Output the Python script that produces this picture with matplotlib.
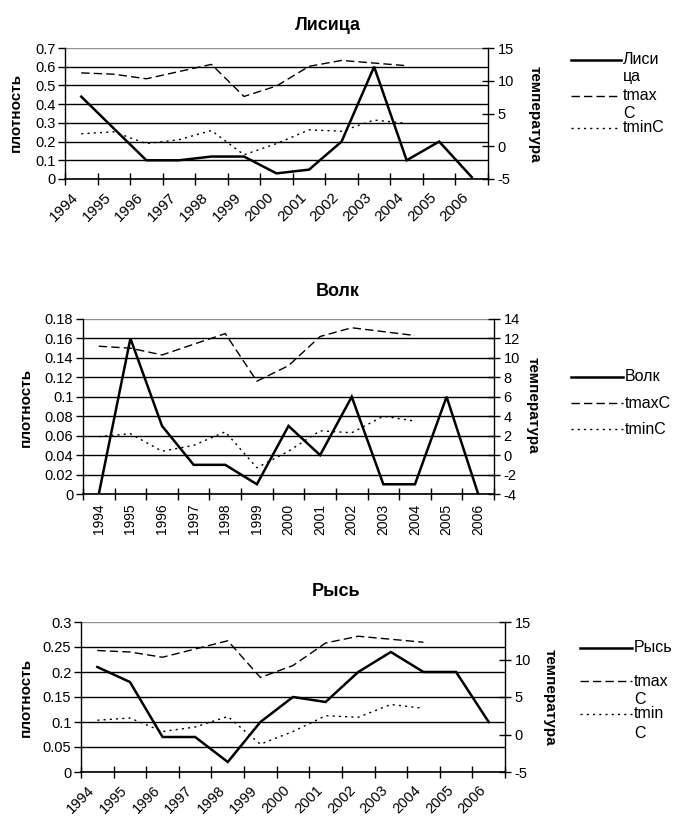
import matplotlib
matplotlib.use('Agg')
import matplotlib.pyplot as plt
from matplotlib.lines import Line2D
from matplotlib.ticker import FuncFormatter
import numpy as np

plt.rcParams['font.family'] = ['Liberation Sans', 'DejaVu Sans']

# ---------------- data ----------------
years = [str(y) for y in range(1994, 2007)]
fox = [0.44, 0.27, 0.10, 0.10, 0.12, 0.12, 0.03, 0.05, 0.20, 0.60, 0.10, 0.20, 0.01]
wolf = [0.00, 0.16, 0.07, 0.03, 0.03, 0.01, 0.07, 0.04, 0.10, 0.01, 0.01, 0.10, 0.00]
lynx = [0.21, 0.18, 0.07, 0.07, 0.02, 0.10, 0.15, 0.14, 0.20, 0.24, 0.20, 0.20, 0.10]
tmax = [11.2, 11.0, 10.3, 11.4, 12.5, 7.6, 9.2, 12.2, 13.1, 12.7, 12.3]
tmin = [1.9, 2.2, 0.4, 1.0, 2.4, -1.3, 0.4, 2.5, 2.3, 4.0, 3.5]

fox_ticks = [0, 0.1, 0.2, 0.3, 0.4, 0.5, 0.6, 0.7]
wolf_ticks = [0, 0.02, 0.04, 0.06, 0.08, 0.1, 0.12, 0.14, 0.16, 0.18]
lynx_ticks = [0, 0.05, 0.1, 0.15, 0.2, 0.25, 0.3]
t_ticks_a = [-5, 0, 5, 10, 15]
t_ticks_b = [-4, -2, 0, 2, 4, 6, 8, 10, 12, 14]

# ---------------- figure ----------------
W, H = 673, 819
fig = plt.figure(figsize=(W / 100, H / 100), dpi=100)

def fx(px):
    return px / W

def fy(py):
    return 1 - py / H

DASH = (0, (6, 3))
DOT = (0, (1.5, 3))

panels = [
    dict(title='Лисица', dens=fox, dticks=fox_ticks, tticks=t_ticks_a,
         box=(65, 48, 488, 179), rot=45, xls=11, title_xy=(328, 25),
         ylab_l=(16, 112), ylab_r=(535, 114),
         leg_x=(571, 621, 623),
         leg=[('-', 60, [('Лиси', 60), ('ца', 77)]),
              (DASH, 96, [('tmax', 96), ('C', 113)]),
              (DOT, 128, [('tminC', 128)])]),
    dict(title='Волк', dens=wolf, dticks=wolf_ticks, tticks=t_ticks_b,
         box=(83, 319, 494, 494), rot=90, xls=10, title_xy=(338, 292),
         ylab_l=(26, 407), ylab_r=(533, 405),
         leg_x=(571, 623, 625),
         leg=[('-', 377, [('Волк', 377)]),
              (DASH, 403, [('tmaxC', 403)]),
              (DOT, 429, [('tminC', 429)])]),
    dict(title='Рысь', dens=lynx, dticks=lynx_ticks, tticks=t_ticks_a,
         box=(81, 622, 505, 772), rot=45, xls=10.5, title_xy=(336, 592),
         ylab_l=(26, 697), ylab_r=(550, 697),
         leg_x=(580, 632, 634),
         leg=[('-', 648, [('Рысь', 648)]),
              (DASH, 681, [('tmax', 681), ('C', 700)]),
              (DOT, 714, [('tmin', 714), ('C', 733)])]),
]

fmt = FuncFormatter(lambda v, _: '%g' % round(v, 4))
x = np.arange(len(years))
xt = np.arange(len(tmax))

for p in panels:
    l, t, r, b = p['box']
    ax = fig.add_axes([fx(l), fy(b), (r - l) / W, (b - t) / H])
    ax2 = ax.twinx()

    ax.plot(x, p['dens'], color='black', lw=1.8, solid_joinstyle='miter', zorder=3)
    ax2.plot(xt, tmax, color='black', lw=1.0, linestyle=DASH)
    ax2.plot(xt, tmin, color='black', lw=1.0, linestyle=DOT)

    ax.set_xlim(-0.5, len(years) - 0.5)
    ax.set_ylim(p['dticks'][0], p['dticks'][-1])
    ax.set_yticks(p['dticks'])
    ax.yaxis.set_major_formatter(fmt)
    ax2.set_ylim(p['tticks'][0], p['tticks'][-1])
    ax2.set_yticks(p['tticks'])
    ax2.yaxis.set_major_formatter(fmt)

    ax.set_xticks(x)
    if p['rot'] == 45:
        ax.set_xticklabels(years, rotation=45, ha='right', va='top')
        ax.tick_params(axis='x', which='major', length=0, pad=8, labelsize=p['xls'])
    else:
        ax.set_xticklabels(years, rotation=90, ha='center', va='top')
        ax.tick_params(axis='x', which='major', length=0, pad=7, labelsize=p['xls'])
    ax.set_xticks(np.arange(-0.5, len(years), 1), minor=True)
    ax.tick_params(axis='x', which='minor', direction='inout', length=8, width=1)
    ax.tick_params(axis='y', direction='out', length=5, width=1, labelsize=10.5, pad=2)
    ax2.tick_params(axis='y', direction='inout', length=8, width=1, labelsize=10.5, pad=3)

    ax.yaxis.grid(True, color='black', lw=1)
    ax.yaxis.get_gridlines()[-1].set_color('#909090')
    for s in ['top', 'right']:
        ax.spines[s].set_visible(False)
    for s in ['top', 'left', 'bottom']:
        ax2.spines[s].set_visible(False)
    ax.spines['left'].set_linewidth(1)
    ax.spines['bottom'].set_linewidth(1.2)
    ax2.spines['right'].set_linewidth(1)

    fig.text(fx(p['title_xy'][0]), fy(p['title_xy'][1]), p['title'],
             ha='center', va='center', fontsize=13, fontweight='bold')
    fig.text(fx(p['ylab_l'][0]), fy(p['ylab_l'][1]), 'плотность', rotation=90,
             ha='center', va='center', fontsize=11, fontweight='bold')
    fig.text(fx(p['ylab_r'][0]), fy(p['ylab_r'][1]), 'температура', rotation=270,
             ha='center', va='center', fontsize=11, fontweight='bold')

    hx0, hx1, tx = p['leg_x']
    for style, hy, lines in p['leg']:
        lw = 1.8 if style == '-' else 1.0
        fig.add_artist(Line2D([fx(hx0), fx(hx1)], [fy(hy), fy(hy)],
                              transform=fig.transFigure, color='black',
                              lw=lw, linestyle=style))
        for txt, ty in lines:
            fig.text(fx(tx), fy(ty), txt, ha='left', va='center', fontsize=11.5)

fig.savefig('out.png', dpi=100)
